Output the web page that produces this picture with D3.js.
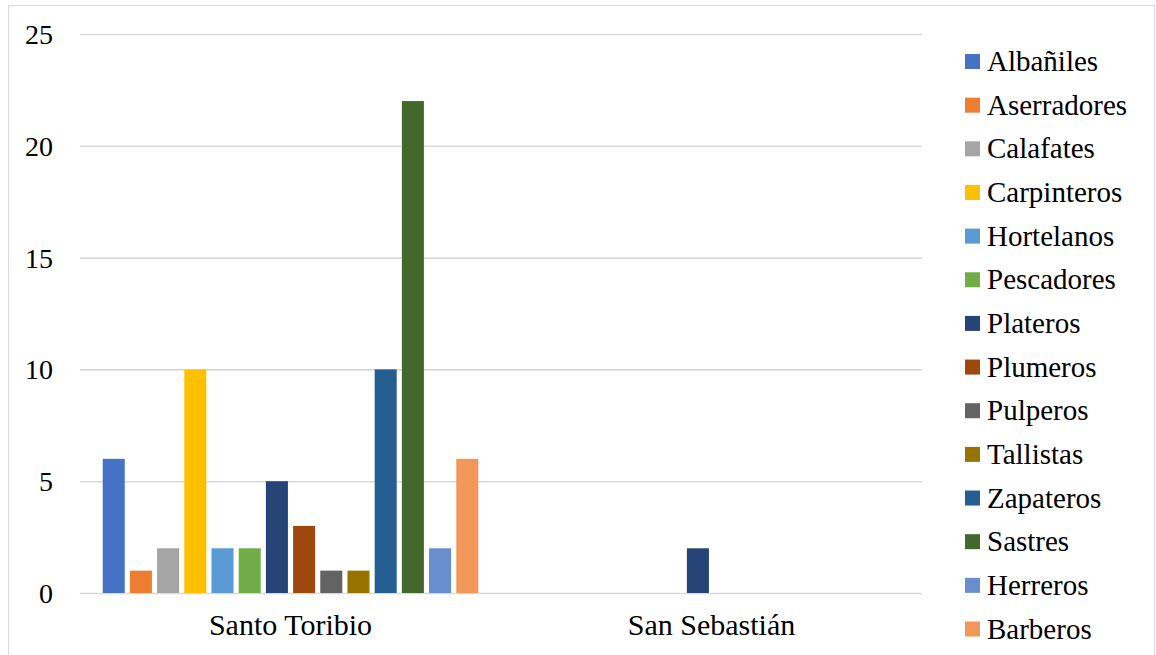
<!DOCTYPE html>
<html><head><meta charset="utf-8">
<script src="https://cdn.jsdelivr.net/npm/d3@7"></script>
</head><body style="margin:0"><svg id="c" width="1156" height="655"></svg>
<script>
const categories = ["Santo Toribio", "San Sebastián"];
const seriesNames = ["Albañiles","Aserradores","Calafates","Carpinteros","Hortelanos","Pescadores","Plateros","Plumeros","Pulperos","Tallistas","Zapateros","Sastres","Herreros","Barberos"];
const santoToribio = [6,1,2,10,2,2,5,3,1,1,10,22,2,6];
const sanSebastian = [0,0,0,0,0,0,2,0,0,0,0,0,0,0];
const colors = ["#4472C4","#ED7D31","#A5A5A5","#FFC000","#5B9BD5","#70AD47","#264478","#9E480E","#636363","#997300","#255E91","#43682B","#698ED0","#F1975A"];
const yTicks = [0,5,10,15,20,25];

const FONT = '"Liberation Serif"';
const values = [santoToribio, sanSebastian];
const svg = d3.select("#c");
const L = 80, R = 922, T = 34, B = 593;

svg.append("rect").attr("x",8.5).attr("y",5.5).attr("width",1146).attr("height",700)
  .attr("fill","none").attr("stroke","#d9d9d9").attr("stroke-width",1);

const y = d3.scaleLinear().domain([0,25]).range([B,T]);
const x0 = d3.scaleBand().domain(categories).range([L,R]).paddingInner(0).paddingOuter(0);
const x1 = d3.scaleBand().domain(seriesNames).range([0,x0.bandwidth()]).paddingInner(0.19).paddingOuter(0.835);

const yAxis = d3.axisLeft(y).tickValues(yTicks).tickSize(-(R-L)).tickPadding(27);
const gy = svg.append("g").attr("transform",`translate(${L},0)`).call(yAxis);
gy.attr("font-family",null).attr("font-size",null);
gy.select(".domain").remove();
gy.selectAll(".tick line").attr("stroke","#d9d9d9").attr("stroke-width",1.6);
gy.selectAll(".tick text").style("font-family",FONT).style("font-size","28px").attr("fill","#000").attr("dy","0.34em");

const groups = svg.append("g").selectAll("g").data(categories).join("g")
  .attr("transform",d=>`translate(${x0(d)},0)`);
groups.selectAll("rect").data((d,i)=>seriesNames.map((s,j)=>({s, v: values[i][j], c: colors[j]})))
  .join("rect")
  .attr("x",d=>x1(d.s)).attr("width",x1.bandwidth())
  .attr("y",d=>y(d.v)).attr("height",d=>B - y(d.v))
  .attr("fill",d=>d.c);

const xAxis = d3.axisBottom(x0).tickSize(0).tickPadding(22);
const gx = svg.append("g").attr("transform",`translate(0,${B})`).call(xAxis);
gx.attr("font-family",null).attr("font-size",null);
gx.select(".domain").remove();
gx.selectAll(".tick text").style("font-family",FONT).style("font-size","30px").attr("fill","#000").attr("dy","0.68em");

const ly = d3.scaleLinear().domain([0,13]).range([61.5,629]);
const lg = svg.append("g").selectAll("g").data(seriesNames).join("g")
  .attr("transform",(d,i)=>`translate(965,${ly(i)})`);
lg.append("rect").attr("x",0).attr("y",-7.5).attr("width",15).attr("height",15).attr("fill",(d,i)=>colors[i]);
lg.append("text").attr("x",22).attr("y",0).attr("dy","0.33em")
  .style("font-family",FONT).style("font-size","29px").attr("fill","#000").text(d=>d);
</script></body></html>
